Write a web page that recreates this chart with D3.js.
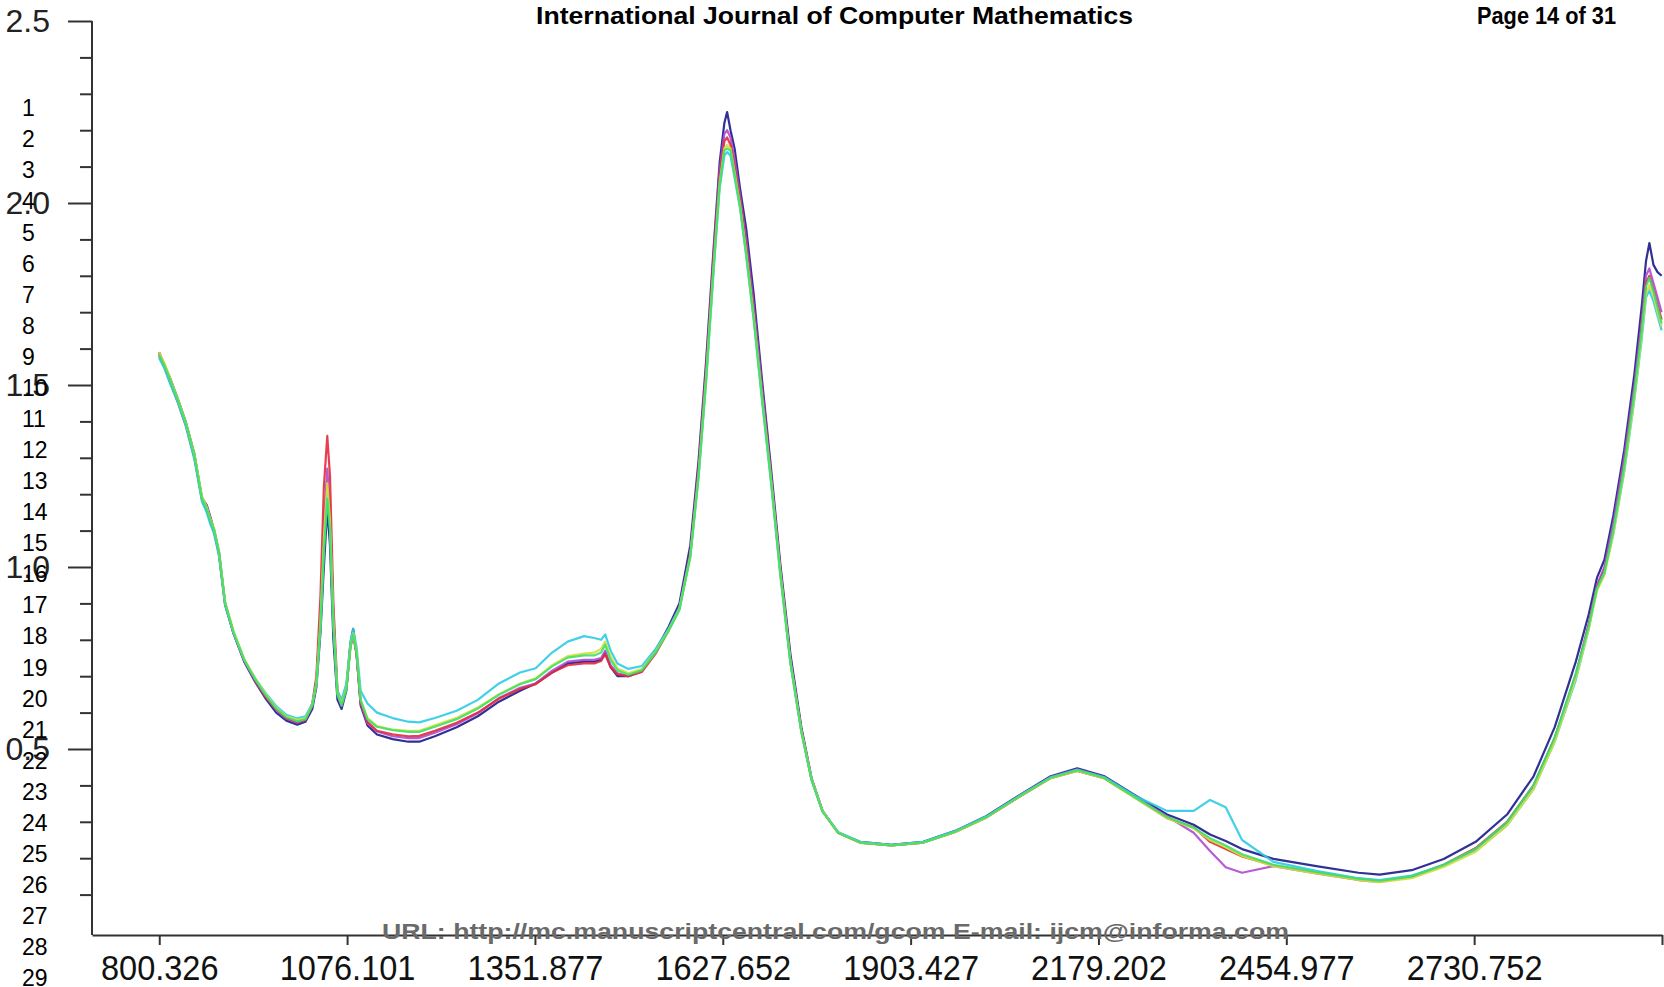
<!DOCTYPE html>
<html>
<head>
<meta charset="utf-8">
<script src="https://cdn.jsdelivr.net/npm/d3@7/dist/d3.min.js"></script>
<style>
  body { margin: 0; background: #fff; }
  svg { display: block; font-family: 'Liberation Sans', Arial, sans-serif; }
</style>
</head>
<body>
<div id="chart"></div>
<script>
// wavenumbers (x) shared by every spectrum
const wavenumbers = [800, 808, 816, 828, 839, 852, 863, 870, 875, 881, 888, 897, 909, 925, 941, 956, 972, 987, 1003, 1015,
  1025, 1031, 1037, 1042, 1047, 1051, 1056, 1062, 1068, 1075, 1081, 1085, 1090, 1096, 1106, 1120, 1143, 1166, 1182, 1205,
  1237, 1268, 1299, 1330, 1353, 1377, 1400, 1424, 1439, 1449, 1455, 1463, 1473, 1489, 1509, 1529, 1548, 1564, 1580, 1592,
  1603, 1614, 1623, 1630, 1634, 1639, 1645, 1653, 1662, 1673, 1686, 1698, 1712, 1727, 1743, 1758, 1774, 1797, 1829, 1875,
  1922, 1969, 2015, 2062, 2109, 2148, 2187, 2234, 2280, 2319, 2343, 2366, 2390, 2436, 2499, 2561, 2592, 2639, 2686, 2733,
  2779, 2818, 2849, 2880, 2899, 2911, 2922, 2935, 2951, 2966, 2977, 2983, 2988, 2994, 3000, 3006]

const navy = [1.59, 1.555, 1.52, 1.46, 1.40, 1.31, 1.19, 1.17, 1.14, 1.10, 1.04, 0.90, 0.82, 0.74, 0.685, 0.64, 0.60, 0.578, 0.567, 0.575,
  0.61, 0.67, 0.82, 1.00, 1.16, 1.06, 0.80, 0.635, 0.61, 0.66, 0.79, 0.83, 0.76, 0.62, 0.565, 0.54, 0.527, 0.52, 0.52, 0.535,
  0.56, 0.59, 0.63, 0.66, 0.68, 0.71, 0.735, 0.74, 0.74, 0.745, 0.765, 0.725, 0.70, 0.70, 0.715, 0.77, 0.835, 0.90, 1.06, 1.29,
  1.56, 1.87, 2.11, 2.22, 2.25, 2.20, 2.15, 2.04, 1.93, 1.75, 1.50, 1.28, 1.01, 0.76, 0.56, 0.42, 0.33, 0.27, 0.245, 0.237,
  0.245, 0.275, 0.316, 0.372, 0.425, 0.447, 0.426, 0.372, 0.32, 0.292, 0.265, 0.247, 0.225, 0.198, 0.178, 0.16, 0.155, 0.167, 0.198, 0.245,
  0.32, 0.425, 0.56, 0.74, 0.87, 0.97, 1.02, 1.14, 1.32, 1.53, 1.72, 1.84, 1.89, 1.83, 1.81, 1.80]

const magenta = [1.58, 1.55, 1.51, 1.455, 1.395, 1.30, 1.19, 1.165, 1.135, 1.10, 1.04, 0.90, 0.82, 0.742, 0.688, 0.645, 0.607, 0.583, 0.572, 0.58,
  0.618, 0.685, 0.87, 1.12, 1.27, 1.16, 0.86, 0.65, 0.618, 0.665, 0.785, 0.82, 0.765, 0.625, 0.57, 0.548, 0.535, 0.53, 0.53, 0.545,
  0.568, 0.598, 0.64, 0.668, 0.68, 0.715, 0.74, 0.745, 0.745, 0.75, 0.77, 0.73, 0.708, 0.70, 0.714, 0.765, 0.828, 0.89, 1.04, 1.27,
  1.54, 1.85, 2.09, 2.19, 2.20, 2.18, 2.12, 2.02, 1.90, 1.72, 1.48, 1.265, 1.00, 0.748, 0.553, 0.418, 0.33, 0.27, 0.243, 0.235,
  0.243, 0.273, 0.314, 0.37, 0.423, 0.444, 0.423, 0.368, 0.315, 0.27, 0.22, 0.175, 0.16, 0.178, 0.158, 0.14, 0.135, 0.148, 0.18, 0.225,
  0.298, 0.40, 0.53, 0.705, 0.845, 0.95, 1.00, 1.12, 1.30, 1.50, 1.68, 1.80, 1.82, 1.78, 1.74, 1.70]

const red = [1.585, 1.55, 1.51, 1.45, 1.39, 1.30, 1.185, 1.155, 1.125, 1.095, 1.035, 0.895, 0.82, 0.745, 0.69, 0.645, 0.61, 0.585, 0.574, 0.58,
  0.625, 0.70, 0.92, 1.22, 1.36, 1.25, 0.90, 0.66, 0.625, 0.67, 0.78, 0.81, 0.76, 0.63, 0.575, 0.55, 0.54, 0.535, 0.536, 0.55,
  0.572, 0.60, 0.638, 0.665, 0.678, 0.71, 0.73, 0.735, 0.735, 0.742, 0.76, 0.725, 0.705, 0.70, 0.712, 0.762, 0.825, 0.885, 1.035, 1.26,
  1.53, 1.84, 2.07, 2.17, 2.18, 2.16, 2.10, 2.01, 1.88, 1.70, 1.46, 1.255, 0.99, 0.74, 0.55, 0.415, 0.33, 0.27, 0.243, 0.235,
  0.243, 0.272, 0.312, 0.367, 0.42, 0.44, 0.42, 0.365, 0.31, 0.285, 0.245, 0.225, 0.205, 0.18, 0.16, 0.142, 0.137, 0.15, 0.182, 0.228,
  0.30, 0.40, 0.53, 0.70, 0.84, 0.945, 0.99, 1.10, 1.28, 1.48, 1.66, 1.78, 1.80, 1.76, 1.72, 1.68]

const cyan = [1.575, 1.545, 1.505, 1.45, 1.39, 1.295, 1.18, 1.15, 1.12, 1.09, 1.03, 0.895, 0.82, 0.745, 0.695, 0.655, 0.618, 0.594, 0.584, 0.59,
  0.625, 0.68, 0.84, 1.05, 1.20, 1.11, 0.85, 0.66, 0.635, 0.68, 0.795, 0.83, 0.78, 0.66, 0.625, 0.60, 0.585, 0.575, 0.573, 0.585,
  0.605, 0.635, 0.68, 0.71, 0.722, 0.765, 0.795, 0.81, 0.805, 0.80, 0.815, 0.77, 0.735, 0.72, 0.728, 0.775, 0.83, 0.888, 1.03, 1.245,
  1.505, 1.81, 2.04, 2.13, 2.14, 2.13, 2.07, 1.985, 1.855, 1.68, 1.445, 1.24, 0.98, 0.735, 0.548, 0.416, 0.33, 0.272, 0.245, 0.237,
  0.245, 0.275, 0.315, 0.37, 0.422, 0.443, 0.423, 0.37, 0.33, 0.33, 0.36, 0.34, 0.25, 0.19, 0.165, 0.145, 0.14, 0.152, 0.18, 0.22,
  0.29, 0.39, 0.52, 0.69, 0.83, 0.94, 0.985, 1.09, 1.26, 1.46, 1.63, 1.74, 1.76, 1.73, 1.69, 1.65]

const yellow = [1.59, 1.56, 1.52, 1.46, 1.40, 1.31, 1.195, 1.165, 1.135, 1.105, 1.045, 0.905, 0.826, 0.748, 0.694, 0.652, 0.614, 0.59, 0.58, 0.585,
  0.622, 0.68, 0.85, 1.08, 1.23, 1.13, 0.85, 0.652, 0.625, 0.668, 0.782, 0.818, 0.768, 0.636, 0.585, 0.563, 0.553, 0.55, 0.55, 0.565,
  0.586, 0.614, 0.65, 0.68, 0.694, 0.73, 0.755, 0.762, 0.765, 0.775, 0.795, 0.755, 0.722, 0.708, 0.72, 0.768, 0.826, 0.884, 1.03, 1.25,
  1.515, 1.82, 2.055, 2.15, 2.16, 2.15, 2.085, 1.995, 1.865, 1.69, 1.455, 1.25, 0.988, 0.74, 0.55, 0.417, 0.33, 0.27, 0.243, 0.235,
  0.243, 0.272, 0.312, 0.368, 0.42, 0.44, 0.42, 0.364, 0.31, 0.282, 0.25, 0.23, 0.206, 0.178, 0.158, 0.14, 0.134, 0.145, 0.176, 0.218,
  0.29, 0.39, 0.52, 0.695, 0.83, 0.935, 0.978, 1.09, 1.265, 1.465, 1.64, 1.75, 1.775, 1.745, 1.70, 1.66]

const green = [1.582, 1.552, 1.515, 1.456, 1.398, 1.305, 1.188, 1.159, 1.130, 1.101, 1.042, 0.902, 0.824, 0.745, 0.692, 0.649, 0.611, 0.587, 0.576, 0.582,
  0.620, 0.678, 0.838, 1.042, 1.188, 1.101, 0.838, 0.649, 0.620, 0.663, 0.780, 0.815, 0.765, 0.634, 0.582, 0.561, 0.552, 0.547, 0.547, 0.561,
  0.582, 0.611, 0.649, 0.678, 0.692, 0.727, 0.751, 0.757, 0.757, 0.765, 0.786, 0.745, 0.716, 0.704, 0.716, 0.765, 0.824, 0.882, 1.028, 1.246,
  1.509, 1.815, 2.048, 2.144, 2.150, 2.144, 2.077, 1.990, 1.859, 1.684, 1.450, 1.246, 0.984, 0.736, 0.547, 0.415, 0.328, 0.270, 0.243, 0.235,
  0.243, 0.273, 0.313, 0.369, 0.421, 0.442, 0.421, 0.366, 0.313, 0.284, 0.255, 0.235, 0.211, 0.182, 0.162, 0.144, 0.138, 0.150, 0.182, 0.226,
  0.299, 0.401, 0.532, 0.707, 0.838, 0.940, 0.984, 1.101, 1.276, 1.480, 1.655, 1.771, 1.794, 1.757, 1.713, 1.669]

const seriesNames = ['navy', 'magenta', 'red', 'cyan', 'yellow', 'green']
const seriesValues = [navy, magenta, red, cyan, yellow, green]
const seriesColors = ['#1a1a8a', '#b04ad0', '#e42a3c', '#2ccbe6', '#d2e03c', '#3ee06c']

const xTicks = [800.326, 1076.101, 1351.877, 1627.652, 1903.427, 2179.202, 2454.977, 2730.752, 3006.527]
const xTickLabels = ['800.326', '1076.101', '1351.877', '1627.652', '1903.427', '2179.202', '2454.977', '2730.752', '']
const yMajor = [0.5, 1.0, 1.5, 2.0, 2.5]
const yMinor = [0.1, 0.2, 0.3, 0.4, 0.6, 0.7, 0.8, 0.9, 1.1, 1.2, 1.3, 1.4, 1.6, 1.7, 1.8, 1.9, 2.1, 2.2, 2.3, 2.4]
const lineNumbers = d3.range(1, 30)

const headerTitle = 'International Journal of Computer Mathematics'
const headerPage = 'Page 14 of 31'
const footerText = 'URL: http://mc.manuscriptcentral.com/gcom E-mail: ijcm@informa.com'

const width = 1664
const height = 987
const plotLeft = 92
const plotRight = 1662
const plotTop = 21
const plotBottom = 935

const xScale = d3.scaleLinear().domain([701.6, 3006.527]).range([plotLeft, plotRight])
const yScale = d3.scaleLinear().domain([-0.011, 2.5]).range([plotBottom, plotTop])

const svg = d3.select('#chart')
  .append('svg')
  .attr('width', width)
  .attr('height', height)

svg.append('rect').attr('width', width).attr('height', height).attr('fill', '#fff')

// spectra
const line = d3.line()
  .x((d, i) => xScale(wavenumbers[i]))
  .y((d) => yScale(d))

svg.append('g')
  .selectAll('path')
  .data(seriesValues)
  .enter()
  .append('path')
  .attr('d', (d) => line(d))
  .attr('fill', 'none')
  .attr('stroke', (d, i) => seriesColors[i])
  .attr('stroke-width', 2.2)
  .attr('stroke-linejoin', 'round')
  .attr('opacity', 0.9)

// y axis: minor + major ticks
const yMinorAxis = d3.axisLeft(yScale).tickValues(yMinor).tickSize(12).tickSizeOuter(0).tickFormat('')
const yMajorAxis = d3.axisLeft(yScale).tickValues(yMajor).tickSize(24).tickSizeOuter(0).tickPadding(18).tickFormat(d3.format('.1f'))

svg.append('g')
  .attr('transform', `translate(${plotLeft}, 0)`)
  .call(yMinorAxis)
  .call((g) => g.select('.domain').remove())
const yAxisG = svg.append('g')
  .attr('transform', `translate(${plotLeft}, 0)`)
  .call(yMajorAxis)
yAxisG.select('.domain').attr('d', `M0,${plotTop}V${plotBottom}`)
yAxisG.selectAll('text')
  .attr('font-size', 32)
  .attr('fill', '#222')
  .attr('font-family', "'Liberation Sans', Arial, sans-serif")

// x axis
const xAxis = d3.axisBottom(xScale).tickValues(xTicks).tickSize(10).tickSizeOuter(0).tickPadding(10)
  .tickFormat((d, i) => xTickLabels[i])
const xAxisG = svg.append('g')
  .attr('transform', `translate(0, ${plotBottom})`)
  .call(xAxis)
xAxisG.selectAll('text')
  .attr('font-size', 35)
  .attr('fill', '#111')
  .attr('transform', 'scale(0.93,1)')
  .attr('font-family', "'Liberation Sans', Arial, sans-serif")

svg.selectAll('.domain, .tick line').attr('stroke', '#333').attr('stroke-width', 2)

// manuscript line numbers
svg.append('g')
  .selectAll('text')
  .data(lineNumbers)
  .enter()
  .append('text')
  .attr('x', 22)
  .attr('y', (d) => 108 + (d - 1) * 31.07)
  .attr('dy', '0.36em')
  .attr('font-size', 23)
  .attr('fill', '#000')
  .text((d) => d)

// page header and footer
svg.append('text')
  .attr('x', 536)
  .attr('y', 24)
  .attr('font-size', 24)
  .attr('font-weight', 'bold')
  .attr('textLength', 597)
  .attr('lengthAdjust', 'spacingAndGlyphs')
  .text(headerTitle)
svg.append('text')
  .attr('x', 1616)
  .attr('y', 24)
  .attr('text-anchor', 'end')
  .attr('font-size', 24)
  .attr('font-weight', 'bold')
  .attr('textLength', 139)
  .attr('lengthAdjust', 'spacingAndGlyphs')
  .text(headerPage)
svg.append('text')
  .attr('x', 382)
  .attr('y', 939)
  .attr('font-size', 22)
  .attr('font-weight', 'bold')
  .attr('fill', '#6a6a6a')
  .attr('textLength', 907)
  .attr('lengthAdjust', 'spacingAndGlyphs')
  .text(footerText)
</script>
</body>
</html>
